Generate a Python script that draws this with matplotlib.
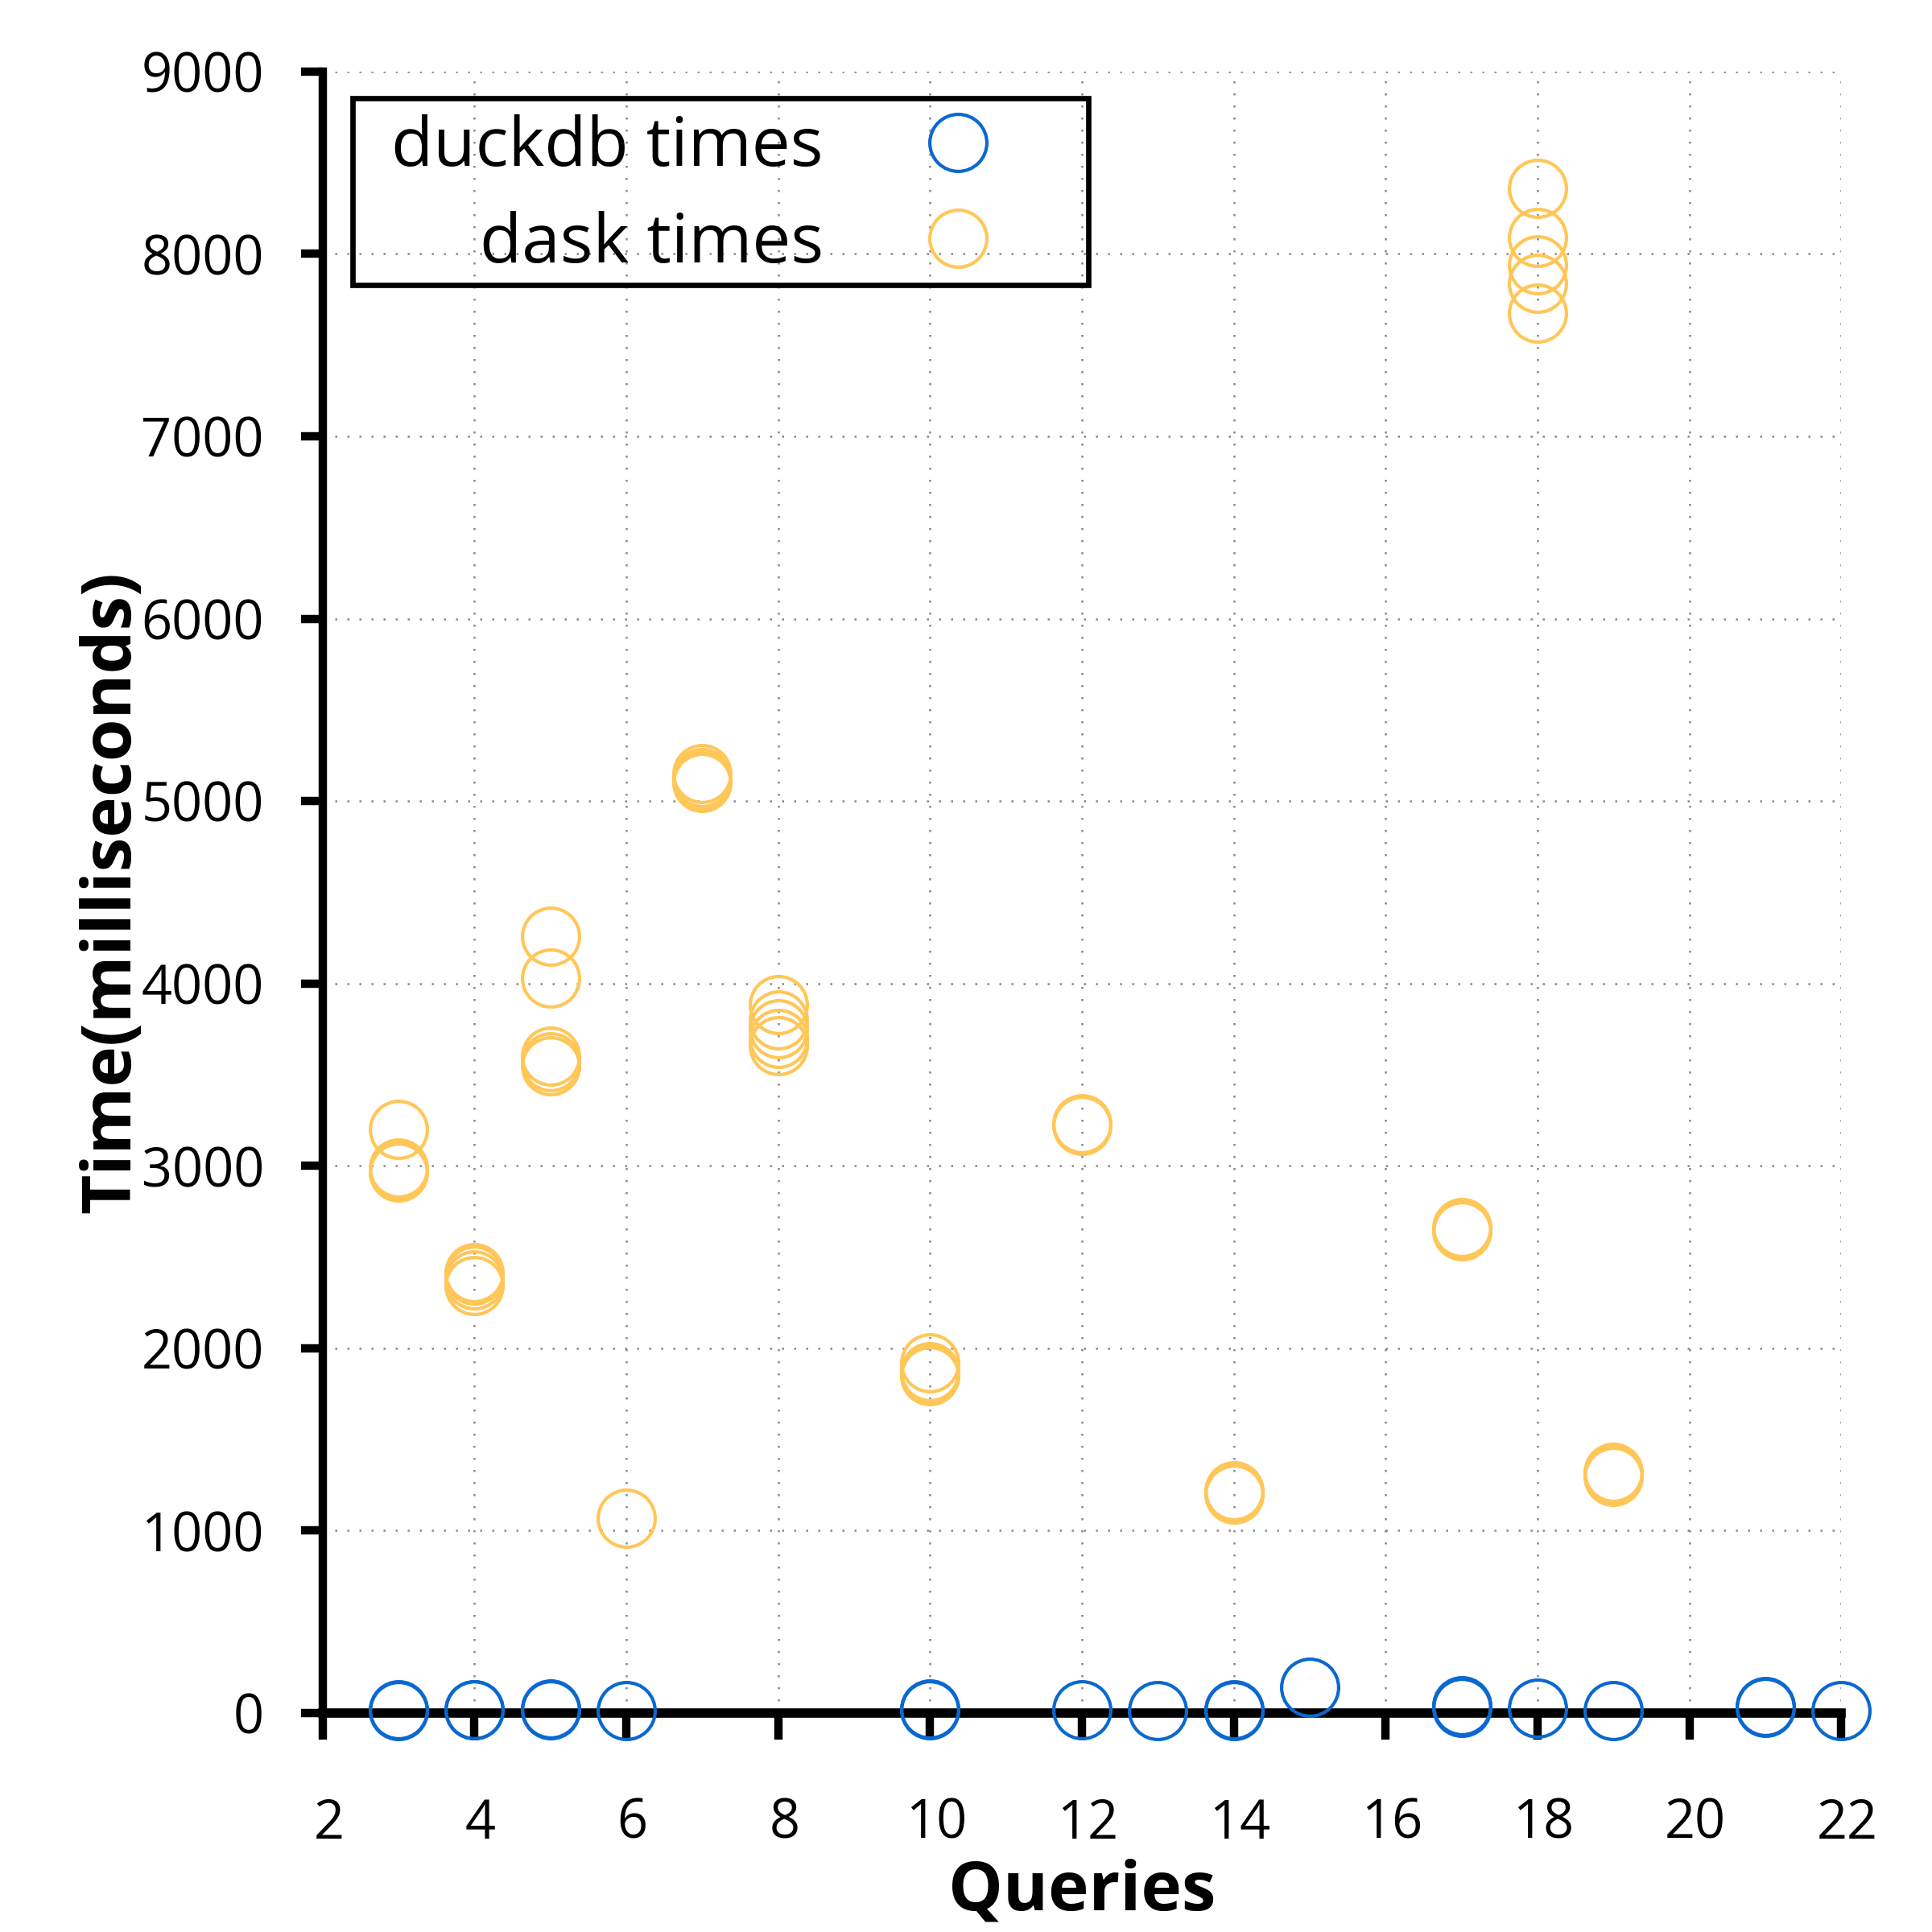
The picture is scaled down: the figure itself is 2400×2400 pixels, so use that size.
import matplotlib
matplotlib.use('Agg')
import matplotlib.pyplot as plt
from matplotlib.patches import Rectangle
from matplotlib.transforms import ScaledTranslation

plt.rcParams['font.family'] = ['Open Sans', 'DejaVu Sans']

# Query runs (one entry per run)
duck_q = [3, 3, 4, 4, 5, 5, 6, 10, 10, 12, 13, 14, 14, 15, 17, 17, 17, 18, 19, 21, 21, 22]
duck_ms = [20, 15, 20, 18, 22, 18, 15, 22, 18, 18, 12, 18, 15, 140, 35, 30, 40, 25, 15, 35, 30, 15]

dask_q = [3, 3, 3, 3,
          4, 4, 4, 4,
          5, 5, 5, 5, 5,
          6,
          7, 7, 7, 7,
          8, 8, 8, 8, 8,
          10, 10, 10, 10,
          12, 12,
          14, 14, 14,
          17, 17, 17,
          18, 18, 18, 18, 18,
          19, 19, 19]
dask_ms = [3200, 2990, 2975, 2965,
           2415, 2400, 2375, 2345,
           4260, 4030, 3600, 3570, 3550,
           1070,
           5150, 5130, 5110, 5100,
           3885, 3800, 3750, 3700, 3660,
           1920, 1870, 1860, 1850,
           3230, 3220,
           1220, 1210, 1200,
           2660, 2650, 2645,
           8360, 8090, 7940, 7840, 7675,
           1320, 1310, 1300]

blue = '#0a68d0'
orange = '#ffc658'

fig = plt.figure(figsize=(8, 8), dpi=300)
ax = fig.add_axes([0.167, 0.1133, 0.786, 0.8497])

ax.plot(duck_q, duck_ms, linestyle='none', marker='o', markersize=17,
        markerfacecolor='none', markeredgecolor=blue, markeredgewidth=1.0,
        label='duckdb times', clip_on=False, zorder=5)
ax.plot(dask_q, dask_ms, linestyle='none', marker='o', markersize=17,
        markerfacecolor='none', markeredgecolor=orange, markeredgewidth=1.0,
        label='dask times', clip_on=False, zorder=5)

ax.set_xlim(2, 22)
ax.set_ylim(0, 9000)
ax.set_xticks(range(2, 23, 2))
ax.set_yticks(range(0, 9001, 1000))

for side in ['top', 'right']:
    ax.spines[side].set_visible(False)
ax.spines['left'].set_linewidth(2.5)
ax.spines['bottom'].set_linewidth(2.8)

ax.tick_params(axis='both', direction='out', width=2.5, labelsize=16)
ax.tick_params(axis='x', length=8, pad=17)
ax.tick_params(axis='y', length=6.5, pad=11)

# x tick labels sit a bit right of their ticks in the original
shift = ScaledTranslation(1.8 / 72, 0, fig.dpi_scale_trans)
for lbl in ax.get_xticklabels():
    lbl.set_transform(lbl.get_transform() + shift)

ax.grid(True, color='#888888', linestyle=(0, (1, 5)), linewidth=0.6)
ax.set_axisbelow(True)

ax.set_xlabel('Queries', fontsize=20.5, fontweight='bold', labelpad=2)
ax.set_ylabel('Time(milliseconds)', fontsize=20.5, fontweight='bold', labelpad=-1.5)

leg = ax.legend(loc='upper left', bbox_to_anchor=(0.0454, 0.9737),
                borderaxespad=0, markerfirst=False, fontsize=20.5,
                handlelength=2.9, handletextpad=0.5, borderpad=0,
                labelspacing=0.42, frameon=False)

# legend box
ax.add_patch(Rectangle((0.0195, 0.870), 0.485, 0.1135, transform=ax.transAxes,
                       fill=False, edgecolor='black', linewidth=1.6,
                       clip_on=False, zorder=6))

fig.savefig('out.png', dpi=300)
